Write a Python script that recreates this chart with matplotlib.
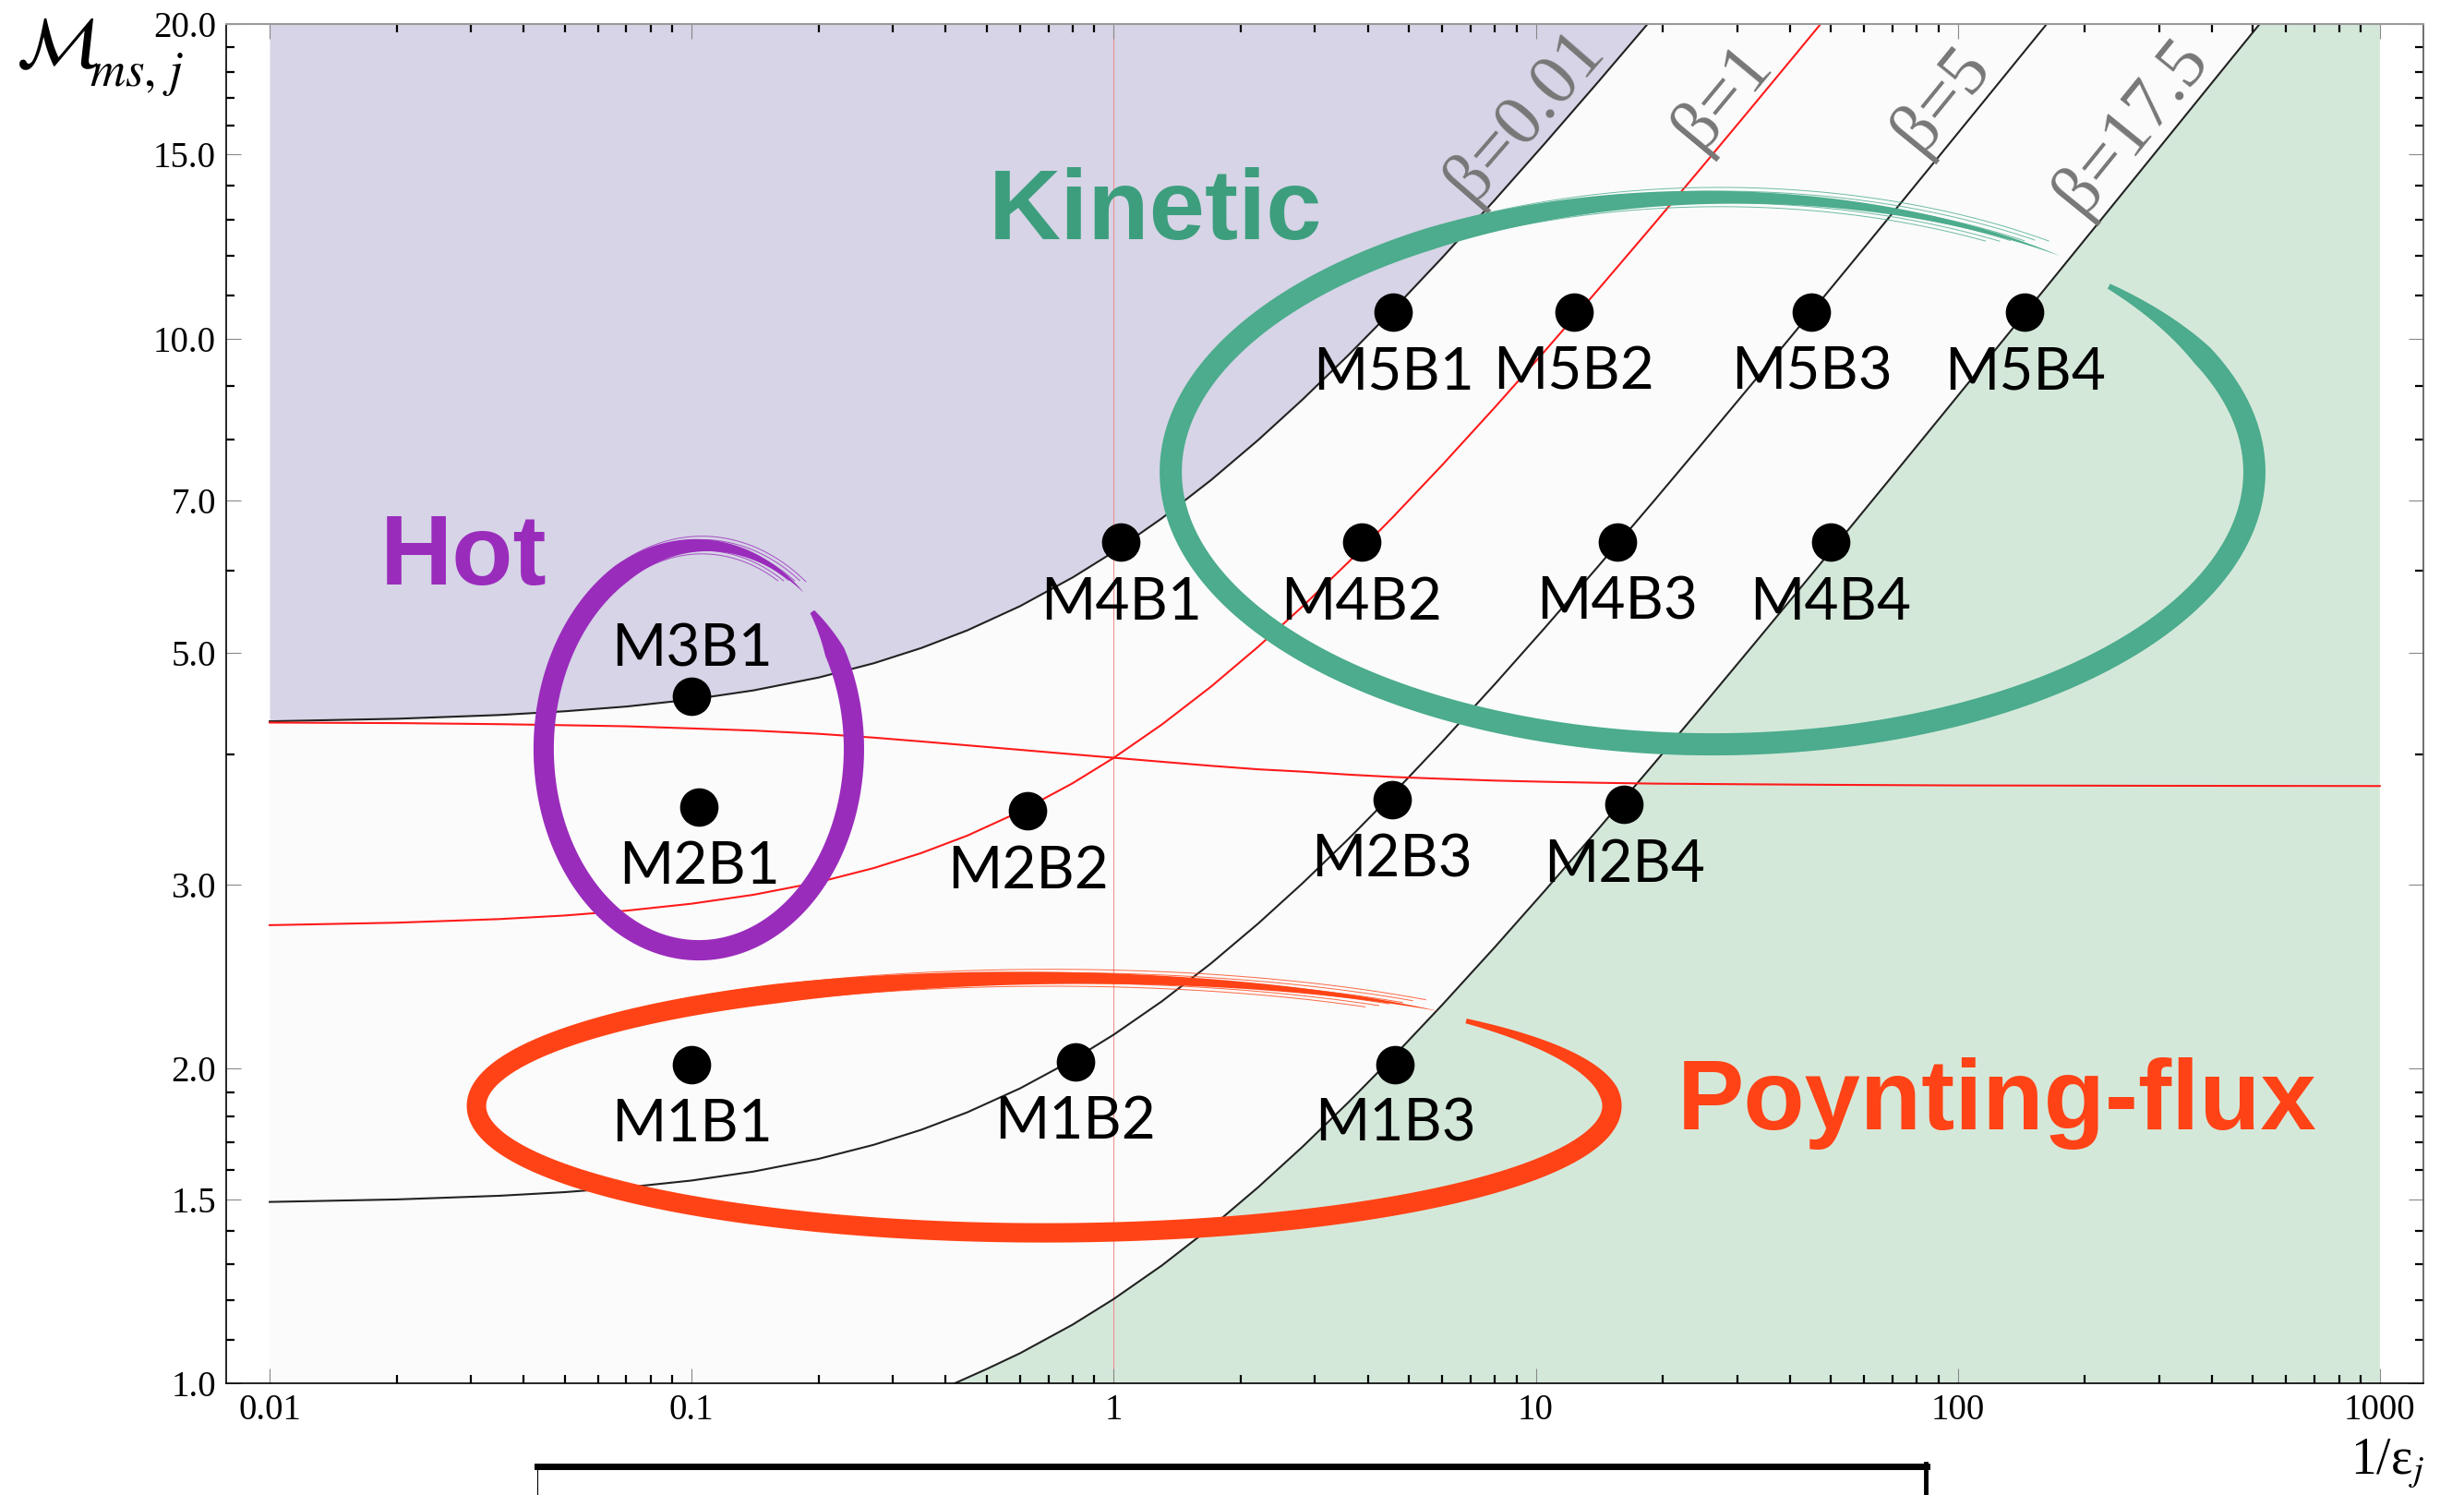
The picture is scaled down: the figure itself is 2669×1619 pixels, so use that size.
import numpy as np
import matplotlib
matplotlib.use("Agg")
import matplotlib.pyplot as plt
from matplotlib.patches import Polygon
from matplotlib.lines import Line2D
from matplotlib.ticker import FixedLocator, NullFormatter

plt.rcParams['mathtext.fontset'] = 'stix'
plt.rcParams['font.family'] = ['Liberation Serif', 'DejaVu Serif']

# beta curves: x = 1/eps_j, y = M_ms,j
beta001_x = [0.01, 0.02, 0.035, 0.05, 0.07, 0.1, 0.14, 0.2, 0.27, 0.35, 0.45, 0.6, 0.8, 1.0,
             1.3, 1.7, 2.2, 2.8, 3.6, 4.6, 6, 8, 10.5, 14, 18.4]
beta001_m = [4.302, 4.326, 4.362, 4.398, 4.444, 4.514, 4.605, 4.738, 4.889, 5.056, 5.257, 5.545,
             5.908, 6.249, 6.729, 7.320, 7.997, 8.741, 9.644, 10.665, 11.950, 13.576, 15.369,
             17.573, 20.0]
beta1_x = [0.01, 0.02, 0.035, 0.05, 0.07, 0.1, 0.14, 0.2, 0.27, 0.35, 0.45, 0.6, 0.8, 1.0,
           1.3, 1.7, 2.2, 2.8, 3.6, 4.6, 6, 8, 10.5, 14, 19, 25, 33, 41, 47.3]
beta1_m = [2.745, 2.760, 2.782, 2.804, 2.834, 2.878, 2.935, 3.018, 3.113, 3.218, 3.344, 3.526,
           3.754, 3.969, 4.271, 4.643, 5.071, 5.540, 6.110, 6.755, 7.566, 8.594, 9.726, 11.120,
           12.851, 14.661, 16.774, 18.648, 20.0]
beta5_x = [0.01, 0.02, 0.035, 0.05, 0.07, 0.1, 0.14, 0.2, 0.27, 0.35, 0.45, 0.6, 0.8, 1.0,
           1.3, 1.7, 2.2, 2.8, 3.6, 4.6, 6, 8, 10.5, 14, 19, 25, 33, 43, 56, 72, 92, 118, 145, 162.4]
beta5_m = [1.4915, 1.4997, 1.5119, 1.5240, 1.5400, 1.5636, 1.5947, 1.6401, 1.6916, 1.7486,
           1.8173, 1.9157, 2.0396, 2.1564, 2.3206, 2.5229, 2.7550, 3.0100, 3.3196, 3.6702,
           4.1110, 4.6690, 5.2844, 6.0415, 6.9821, 7.9656, 9.1132, 10.371, 11.807, 13.364,
           15.087, 17.068, 18.906, 20.0]
beta175_x = [0.42, 0.5, 0.6, 0.8, 1.0, 1.3, 1.7, 2.2, 2.8, 3.6, 4.6, 6, 8, 10.5, 14, 19, 25,
             33, 43, 56, 72, 92, 118, 150, 190, 240, 300, 370, 450, 519]
beta175_m = [1.0, 1.032, 1.0686, 1.1384, 1.2042, 1.2965, 1.4103, 1.5408, 1.6840, 1.8580,
             2.0548, 2.3022, 2.6153, 2.9606, 3.3853, 3.9128, 4.4643, 5.1078, 5.8129, 6.6182,
             7.4913, 8.4569, 9.5677, 10.779, 12.124, 13.619, 15.221, 16.899, 18.633, 20.0]
# the flat red curve
red_x = [0.01, 0.02, 0.035, 0.05, 0.07, 0.1, 0.14, 0.2, 0.27, 0.35, 0.45, 0.6, 0.8, 1.0,
         1.3, 1.7, 2.2, 2.8, 3.6, 4.6, 6, 8, 10.5, 14, 19, 30, 50, 100, 300, 1000]
red_m = [4.29, 4.285, 4.275, 4.265, 4.255, 4.235, 4.215, 4.185, 4.15, 4.115, 4.08, 4.04,
         4.0, 3.97, 3.935, 3.90, 3.87, 3.85, 3.825, 3.805, 3.79, 3.775, 3.765, 3.757, 3.75,
         3.745, 3.74, 3.735, 3.732, 3.73]

# simulation runs
run_names = ['M1B1', 'M1B2', 'M1B3', 'M2B1', 'M2B2', 'M2B3', 'M2B4', 'M3B1',
             'M4B1', 'M4B2', 'M4B3', 'M4B4', 'M5B1', 'M5B2', 'M5B3', 'M5B4']
run_x = [0.10, 0.81, 4.65, 0.104, 0.625, 4.56, 16.2, 0.10,
         1.04, 3.87, 15.6, 50, 4.6, 12.3, 45, 144]
run_m = [2.02, 2.03, 2.02, 3.56, 3.53, 3.62, 3.58, 4.55,
         6.38, 6.38, 6.38, 6.38, 10.6, 10.6, 10.6, 10.6]

beta_labels = ['β=0.01', 'β=1', 'β=5', 'β=17.5']
beta_label_x = [9.43, 27.7, 91.9, 258]
beta_label_m = [16.35, 17.03, 16.93, 15.95]

x_ticks = [0.01, 0.1, 1, 10, 100, 1000]
x_ticklabels = ['0.01', '0.1', '1', '10', '100', '1000']
y_ticks = [1.0, 1.5, 2.0, 3.0, 5.0, 7.0, 10.0, 15.0, 20.0]
y_minor = [1.1, 1.2, 1.3, 1.4, 1.6, 1.7, 1.8, 1.9, 4, 6, 8, 9, 11, 12, 13, 14, 16, 17, 18, 19]

PURPLE_BG = '#d6d4e6'
GREEN_BG = '#d4e8da'
TEAL = '#4cac8d'
PURPLE = '#9a2cbc'
ORANGE = '#ff4316'

fig = plt.figure(figsize=(26.69, 16.19), dpi=100)
ax = fig.add_axes([0.0918, 0.0747, 0.8917, 0.9092])
ax.set_xscale('log')
ax.set_yscale('log')
ax.set_xlim(0.00789, 1268)
ax.set_ylim(1, 20)

# regions
ax.axvspan(0.01, 1000, color='#fbfbfb', lw=0, zorder=0)
ax.fill_between(beta001_x, beta001_m, 20, color=PURPLE_BG, lw=0, zorder=0.5)
ax.fill(beta175_x + [1000, 1000], beta175_m + [20, 1], color=GREEN_BG, lw=0, zorder=0.5)

ax.axvline(1, color='#f19090', lw=0.8, zorder=1)
ax.plot(beta001_x, beta001_m, color='#222222', lw=1.5, zorder=2)
ax.plot(beta5_x, beta5_m, color='#222222', lw=1.5, zorder=2)
ax.plot(beta175_x, beta175_m, color='#222222', lw=1.5, zorder=2)
ax.plot(beta1_x, beta1_m, color='#ff1a1a', lw=1.5, zorder=2)
ax.plot(red_x, red_m, color='#ff1a1a', lw=1.5, zorder=2)

# beta labels, turned along the curves
for lab, lx, lm, cx, cm in zip(beta_labels, beta_label_x, beta_label_m,
                               [beta001_x, beta1_x, beta5_x, beta175_x],
                               [beta001_m, beta1_m, beta5_m, beta175_m]):
    p1 = ax.transData.transform((cx[-4], cm[-4]))
    p2 = ax.transData.transform((cx[-1], cm[-1]))
    ang = np.degrees(np.arctan2(p2[1] - p1[1], p2[0] - p1[0]))
    ax.text(lx, lm, lab, rotation=ang, rotation_mode='anchor', ha='center', va='center',
            fontsize=56, color='#777777', zorder=2.5)


def brush(cx, cy, a, b, width, color, t0, sweep, taper_in, grow):
    # hand drawn ring: centre / semi axes in axes fraction, width in pixels
    c = ax.transAxes.transform((cx, cy))
    A = a * ax.bbox.width
    B = b * ax.bbox.height
    s = np.linspace(0, 1, 900)
    t = np.radians(t0 - sweep * s)
    g = 1 + grow * np.clip((s - 0.7) / 0.3, 0, 1) ** 2
    X = c[0] + A * g * np.cos(t)
    Y = c[1] + B * g * np.sin(t)
    dx, dy = np.gradient(X), np.gradient(Y)
    nrm = np.hypot(dx, dy)
    nx, ny = -dy / nrm, dx / nrm
    prof = np.minimum(1, 0.25 + 0.75 * s / taper_in)
    prof = np.where(s > 0.8, prof * np.clip((1 - s) / 0.2, 0, 1) ** 0.9, prof)
    w = width * prof / 2
    pts = np.r_[np.c_[X + nx * w, Y + ny * w], np.c_[X - nx * w, Y - ny * w][::-1]]
    pts = ax.transAxes.inverted().transform(pts)
    ax.add_patch(Polygon(pts, closed=True, fc=color, ec='none', zorder=3,
                         transform=ax.transAxes, clip_on=False))
    # loose hairs of the brush at the end of the stroke
    m = s > 0.74
    for k, off in enumerate([-0.42, -0.25, -0.08, 0.1, 0.28, 0.45]):
        mm = m & (s < 0.975 + 0.004 * k)
        px = X[mm] + nx[mm] * width * off
        py = Y[mm] + ny[mm] * width * off
        hp = ax.transAxes.inverted().transform(np.c_[px, py])
        ax.plot(hp[:, 0], hp[:, 1], color=color, lw=0.7, alpha=0.8,
                transform=ax.transAxes, zorder=3, clip_on=False)


brush(0.2151, 0.4667, 0.0706, 0.1481, 22, PURPLE, 43, 354, 0.04, 0.03)
brush(0.6765, 0.6705, 0.2466, 0.2004, 24, TEAL, 43, 352, 0.05, 0.02)
brush(0.3723, 0.2041, 0.2584, 0.0934, 21, ORANGE, 42, 355, 0.10, 0.02)

ax.text(0.4227, 0.8417, 'Kinetic', transform=ax.transAxes, ha='center', va='baseline',
        fontsize=78, fontweight='bold', family='Liberation Sans', color='#3d9e7e', zorder=6)
ax.text(0.108, 0.5876, 'Hot', transform=ax.transAxes, ha='center', va='baseline',
        fontsize=78, fontweight='bold', family='Liberation Sans', color=PURPLE, zorder=6)
ax.text(0.8059, 0.187, 'Poynting-flux', transform=ax.transAxes, ha='center', va='baseline',
        fontsize=78, fontweight='bold', family='Liberation Sans', color=ORANGE, zorder=6)

# runs
ax.plot(run_x, run_m, 'o', color='black', ms=29, zorder=5, clip_on=False)
for name, rx, rm in zip(run_names, run_x, run_m):
    dy = 23 if name == 'M3B1' else -60
    ax.annotate(name, (rx, rm), xytext=(0, dy), textcoords='offset points',
                ha='center', va='baseline', fontsize=46, family='Lato', zorder=6)

# axes cosmetics
ax.set_xticks(x_ticks)
ax.set_xticklabels(x_ticklabels)
ax.set_yticks(y_ticks)
ax.set_yticklabels(['%.1f' % v for v in y_ticks])
ax.xaxis.set_minor_locator(FixedLocator([k * 10.0 ** e for e in range(-2, 3) for k in range(2, 10)]))
ax.yaxis.set_minor_locator(FixedLocator(y_minor))
ax.xaxis.set_minor_formatter(NullFormatter())
ax.yaxis.set_minor_formatter(NullFormatter())
ax.tick_params(which='both', direction='in', top=True, right=True, labelsize=28)
ax.tick_params(which='major', length=11.5, width=0.8, color='#888888', pad=8)
ax.tick_params(which='minor', length=6.5, width=1.6, color='black')
for side in ['left', 'bottom']:
    ax.spines[side].set_color('black')
    ax.spines[side].set_linewidth(1.2)
ax.spines['top'].set_color('#9a9a9a')
ax.spines['right'].set_color('#555555')
ax.spines['top'].set_linewidth(1.5)
ax.spines['right'].set_linewidth(1.2)

# axis titles
fig.text(0.0064, 0.989, r'$\mathcal{M}$', fontsize=56, ha='left', va='top')
fig.text(0.0363, 0.9426, r'$ms,\,j$', fontsize=38, ha='left', va='baseline')
fig.text(0.954, 0.0136, '1/ε$_{j}$', fontsize=40, ha='left', va='baseline')

# sketched box cut by the bottom edge
for dy_, lw_ in [(0.0, 5), (0.0012, 2), (-0.001, 1.5)]:
    fig.add_artist(Line2D([0.218, 0.782], [0.0192 + dy_, 0.0192 + dy_], color='black', lw=lw_))
fig.add_artist(Line2D([0.218, 0.218], [0.0, 0.019], color='black', lw=0.8))
fig.add_artist(Line2D([0.7815, 0.7815], [0.0, 0.021], color='black', lw=3.5))

fig.savefig('out.png', dpi=100)
